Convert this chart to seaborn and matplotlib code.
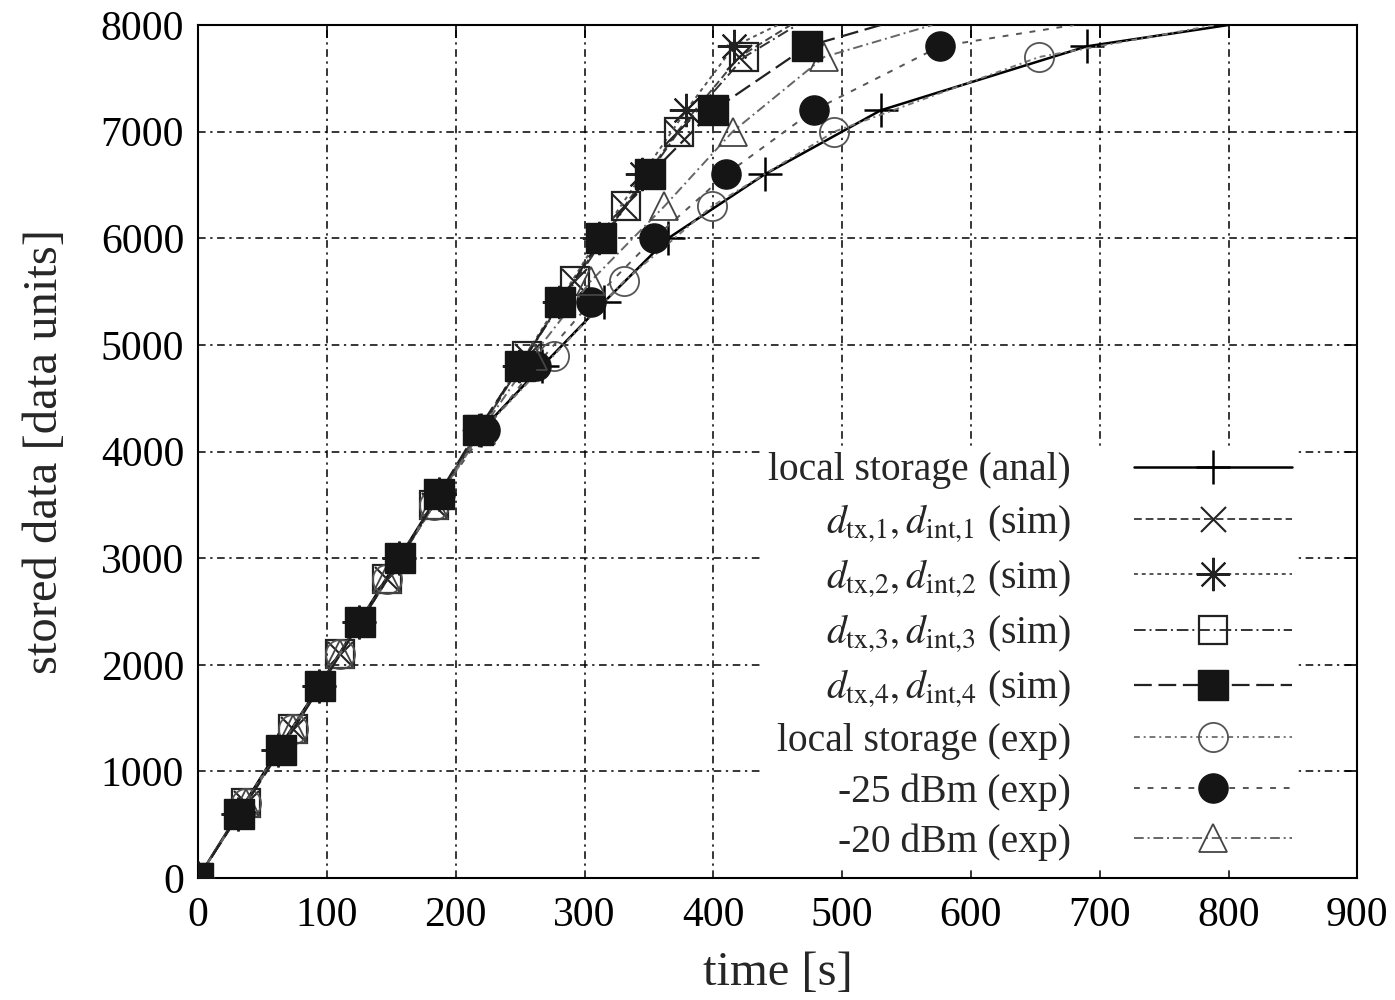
import seaborn as sns
import matplotlib.pyplot as plt

# stored data levels at which the markers sit
y_600 = [0, 600, 1200, 1800, 2400, 3000, 3600, 4200, 4800, 5400, 6000, 6600, 7200, 7800, 8000]
y_700 = [0, 700, 1400, 2100, 2800, 3500, 4200, 4900, 5600, 6300, 7000, 7700, 8000]

# time [s] of each series at those levels (last point = saturation, no marker)
t_anal = [0, 31, 62, 94, 125, 156, 187, 220, 267, 315, 365, 440, 530, 690, 800]
t_d1 = [0, 37, 74, 110, 147, 183, 219, 255, 292, 331, 372, 420, 460]
t_d2 = [0, 31, 62, 94, 125, 156, 187, 218, 249, 280, 311, 345, 379, 416, 450]
t_d3 = [0, 37, 74, 110, 147, 183, 219, 255, 293, 332, 373, 424, 465]
t_d4 = [0, 32, 64, 95, 126, 157, 187, 217, 250, 281, 313, 351, 400, 473, 530]
t_local_exp = [0, 37, 74, 110, 147, 183, 221, 276, 331, 399, 494, 653, 790]
t_m25 = [0, 32, 64, 95, 126, 157, 188, 223, 262, 305, 354, 410, 478, 576, 680]
t_m20 = [0, 37, 74, 110, 147, 183, 220, 260, 305, 362, 415, 486, 570]

labels = ['local storage (anal)',
          r'$d_{\mathrm{tx}{,}1}, d_{\mathrm{int}{,}1}$ (sim)',
          r'$d_{\mathrm{tx}{,}2}, d_{\mathrm{int}{,}2}$ (sim)',
          r'$d_{\mathrm{tx}{,}3}, d_{\mathrm{int}{,}3}$ (sim)',
          r'$d_{\mathrm{tx}{,}4}, d_{\mathrm{int}{,}4}$ (sim)',
          'local storage (exp)',
          '-25 dBm (exp)',
          '-20 dBm (exp)']

x_ticks = [0, 100, 200, 300, 400, 500, 600, 700, 800, 900]
y_ticks = [0, 1000, 2000, 3000, 4000, 5000, 6000, 7000, 8000]

sns.set_theme(style='white')
plt.rcParams['font.family'] = ['Liberation Serif', 'DejaVu Serif']
plt.rcParams['mathtext.fontset'] = 'stix'

fig = plt.figure(figsize=(13.95, 10), dpi=100)
ax = fig.add_axes([0.142, 0.122, 0.831, 0.853])

series = [
    (t_anal, y_600, dict(color='black', linestyle='-', lw=1.8, marker='+', ms=24, mew=1.8, mfc='none', mec='black', zorder=4)),
    (t_d1, y_700, dict(color='#444444', linestyle=(0, (4, 2)), lw=1.4, marker='x', ms=18, mew=1.5, mfc='none', mec='#222222', zorder=4)),
    (t_d2, y_600, dict(color='#555555', linestyle=(0, (2, 2)), lw=1.4, marker=(8, 2, 0), ms=24, mew=1.5, mfc='none', mec='#222222', zorder=4)),
    (t_d3, y_700, dict(color='#333333', linestyle=(0, (6, 2, 1, 2)), lw=1.4, marker='s', ms=20, mew=1.6, mfc='none', mec='#222222', zorder=4)),
    (t_local_exp, y_700, dict(color='#777777', linestyle=(0, (3, 2, 1, 2)), lw=1.4, marker='o', ms=21, mew=1.3, mfc='none', mec='#555555', zorder=4)),
    (t_m25, y_600, dict(color='#555555', linestyle=(0, (3, 4)), lw=1.4, marker='o', ms=21, mew=1.0, mfc='#151515', mec='#151515', zorder=4)),
    (t_m20, y_700, dict(color='#666666', linestyle=(0, (5, 2, 1, 2)), lw=1.4, marker='^', ms=20, mew=1.3, mfc='none', mec='#444444', zorder=4)),
    (t_d4, y_600, dict(color='#222222', linestyle=(0, (8, 3)), lw=1.6, marker='s', ms=21, mew=1.0, mfc='#151515', mec='#151515', zorder=5)),
]
order = [0, 1, 2, 3, 5, 6, 7, 4]

handles = []
for (t, y, kw), li in zip(series, order):
    sns.lineplot(x=t, y=y, ax=ax, sort=False, markevery=slice(0, len(t) - 1), **kw)
    handles.append((li, ax.lines[-1]))
handles = [h for _, h in sorted(handles, key=lambda p: p[0])]

ax.set_xlim(0, 900)
ax.set_ylim(0, 8000)
ax.set_xticks(x_ticks)
ax.set_yticks(y_ticks)

# grid drawn below the legend, ticks above it
for xv in x_ticks[1:-1]:
    ax.axvline(xv, color='black', lw=1.1, linestyle=(0, (5, 3, 1.5, 3)), zorder=1)
for yv in y_ticks[1:-1]:
    ax.axhline(yv, color='black', lw=1.1, linestyle=(0, (5, 3, 1.5, 3)), zorder=1)

ax.tick_params(direction='in', length=9, width=1.2, top=True, right=True,
               labelsize=30, colors='black', pad=10)
ax.tick_params(axis='x', pad=13)
for s in ax.spines.values():
    s.set_color('black')
    s.set_linewidth(1.5)

ax.set_xlabel('time [s]', fontsize=35, labelpad=12)
ax.set_ylabel('stored data [data units]', fontsize=35, labelpad=24)

# markerfirst=False right-aligns the label column next to the handles
leg = ax.legend(handles, labels, loc='lower right', bbox_to_anchor=(0.9645, -0.008),
                markerfirst=False, fontsize=28.5, handlelength=4.0, handletextpad=1.6,
                labelspacing=0.33, borderpad=0.1, frameon=True, fancybox=False,
                framealpha=1, facecolor='white', edgecolor='white')
leg.set_zorder(2)

fig.savefig('out.png', dpi=100)
